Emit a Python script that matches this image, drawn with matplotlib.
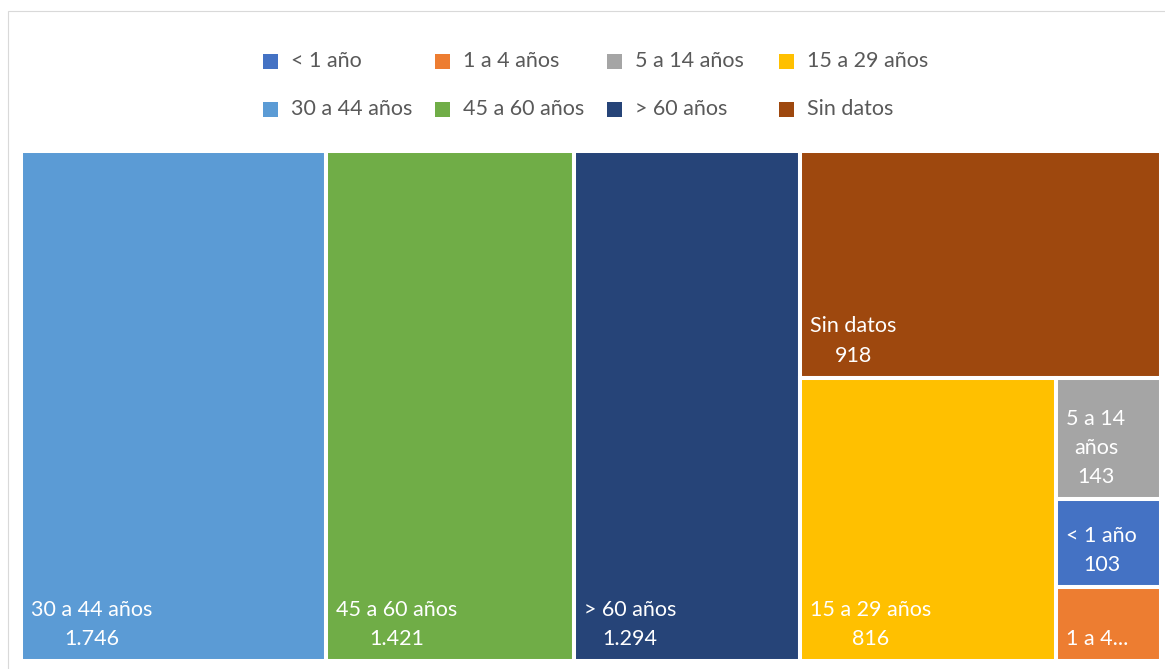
import matplotlib
matplotlib.use("Agg")
import matplotlib.pyplot as plt
from matplotlib.patches import Rectangle

plt.rcParams['font.family'] = ['Lato', 'DejaVu Sans']

# casos por grupo de edad
categories = ["< 1 año", "1 a 4 años", "5 a 14 años", "15 a 29 años",
              "30 a 44 años", "45 a 60 años", "> 60 años", "Sin datos"]
values = [103, 87, 143, 816, 1746, 1421, 1294, 918]
colors = ["#4472C4", "#ED7D31", "#A5A5A5", "#FFC000",
          "#5B9BD5", "#70AD47", "#264478", "#9E480E"]

# nesting of the treemap: 'h' = side by side, 'v' = stacked top to bottom
layout_tree = ('h', ["30 a 44 años", "45 a 60 años", "> 60 años",
                     ('v', ["Sin datos",
                            ('h', ["15 a 29 años",
                                   ('v', ["5 a 14 años", "< 1 año", "1 a 4 años"])])])])

W, H = 1165, 669
FS = 15.5
LINE_PX = 28.5
TEXT_GRAY = "#595959"

val = dict(zip(categories, values))
col = dict(zip(categories, colors))


def node_total(node):
    if isinstance(node, str):
        return val[node]
    return sum(node_total(n) for n in node[1])


def layout(node, x, y, w, h, out):
    # y is the top edge, axes run top-down
    if isinstance(node, str):
        out[node] = (x, y, w, h)
        return
    direction, children = node
    total = node_total(node)
    pos = 0.0
    for child in children:
        frac = node_total(child) / total
        if direction == 'h':
            layout(child, x + pos * w, y, frac * w, h, out)
        else:
            layout(child, x, y + pos * h, w, frac * h, out)
        pos += frac


def fmt(v):
    return f"{v:,}".replace(",", ".")


fig = plt.figure(figsize=(W / 100, H / 100), dpi=100)
renderer = fig.canvas.get_renderer()

# chart border
fig.patches.append(Rectangle((7.5 / W, -0.1), 1.2, 1.1 - 11.5 / H,
                             transform=fig.transFigure, fill=False,
                             edgecolor="#D9D9D9", linewidth=0.8))

ax_l, ax_r, ax_t, ax_b = 21, 1161, 151, 661
ax = fig.add_axes([ax_l / W, 1 - ax_b / H, (ax_r - ax_l) / W, (ax_b - ax_t) / H])
aw, ah = ax_r - ax_l, ax_b - ax_t
ax.set_xlim(0, aw)
ax.set_ylim(ah, 0)
ax.axis("off")

rects = {}
layout(layout_tree, 0, 0, aw, ah, rects)


def text_width(s):
    t = fig.text(0, 0, s, fontsize=FS)
    wpx = t.get_window_extent(renderer).width
    t.remove()
    return wpx


for name, (x, y, w, h) in rects.items():
    ax.add_patch(Rectangle((x, y), w, h, facecolor=col[name],
                           edgecolor="white", linewidth=2.9))

    # wrap the name to the box width, then cut lines that do not fit
    avail_w = w - 18
    lines, cur = [], ""
    for word in name.split():
        trial = (cur + " " + word).strip()
        if cur and text_width(trial) > avail_w:
            lines.append(cur)
            cur = word
        else:
            cur = trial
    lines.append(cur)
    lines.append(fmt(val[name]))
    max_lines = int((h - 22) // LINE_PX)
    if len(lines) > max_lines:
        lines = lines[:max(max_lines, 1)]
        lines[-1] = lines[-1] + "..."

    ax.annotate("\n".join(lines), xy=(x, y + h), xytext=(10, 12),
                textcoords="offset pixels", ha="left", va="bottom",
                multialignment="center", color="white", fontsize=FS,
                linespacing=1.58)

# legend in two rows of four
for i, name in enumerate(categories):
    row, c = divmod(i, 4)
    lx = 263 + c * 172
    ly = 61 + row * 48
    fig.patches.append(Rectangle((lx / W, 1 - (ly + 7.5) / H), 15 / W, 15 / H,
                                 transform=fig.transFigure,
                                 facecolor=col[name], edgecolor="none"))
    fig.text((lx + 28) / W, 1 - ly / H, name, fontsize=FS, color=TEXT_GRAY,
             ha="left", va="center")

fig.savefig("out.png", dpi=100, facecolor="white")
